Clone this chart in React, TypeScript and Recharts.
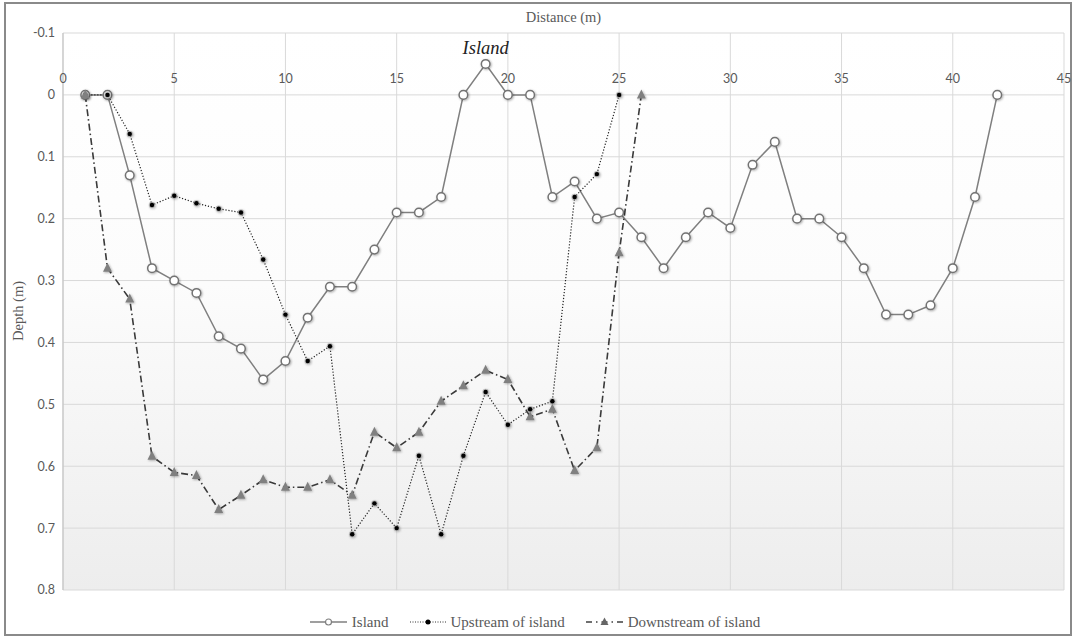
import {
    LineChart,
    Line,
    XAxis,
    YAxis,
    CartesianGrid,
    Legend,
    ReferenceDot,
} from "recharts";

// distance along the transect (m)
const distance = [
    1, 2, 3, 4, 5, 6, 7, 8, 9, 10, 11, 12, 13, 14, 15, 16, 17, 18, 19, 20, 21,
    22, 23, 24, 25, 26, 27, 28, 29, 30, 31, 32, 33, 34, 35, 36, 37, 38, 39, 40,
    41, 42,
];

// depth (m) per series, one value per metre starting at 1 m
const island = [
    0, 0, 0.13, 0.28, 0.3, 0.32, 0.39, 0.41, 0.46, 0.43, 0.36, 0.31, 0.31, 0.25,
    0.19, 0.19, 0.165, 0, -0.05, 0, 0, 0.165, 0.14, 0.2, 0.19, 0.23, 0.28, 0.23,
    0.19, 0.215, 0.113, 0.076, 0.2, 0.2, 0.23, 0.28, 0.355, 0.355, 0.34, 0.28,
    0.165, 0,
];
const upstream = [
    0, 0, 0.063, 0.178, 0.163, 0.175, 0.184, 0.19, 0.266, 0.355, 0.43, 0.406,
    0.71, 0.66, 0.7, 0.583, 0.71, 0.583, 0.48, 0.533, 0.508, 0.495, 0.165, 0.128,
    0,
];
const downstream = [
    0, 0.28, 0.33, 0.584, 0.61, 0.615, 0.67, 0.647, 0.622, 0.634, 0.634, 0.622,
    0.647, 0.545, 0.57, 0.545, 0.495, 0.47, 0.445, 0.46, 0.52, 0.508, 0.607, 0.57,
    0.255, 0,
];

const xTicks = [0, 5, 10, 15, 20, 25, 30, 35, 40, 45];
const yTicks = [-0.1, 0, 0.1, 0.2, 0.3, 0.4, 0.5, 0.6, 0.7, 0.8];

const data = distance.map((d, i) => ({
    distance: d,
    island: island[i],
    upstream: upstream[i],
    downstream: downstream[i],
}));

const GRAY = "#595959";
const SANS = "Lato, 'Open Sans', sans-serif";
const SERIF = "'Liberation Serif', 'DejaVu Serif', serif";

const XTick = ({ x, y, payload }: any) => (
    <text
        x={x}
        y={y}
        dy={58}
        textAnchor="middle"
        fill={GRAY}
        fontSize={12.5}
        fontFamily={SANS}
    >
        {payload.value}
    </text>
);

const UpstreamDot = ({ cx, cy, index }: any) => {
    if (cx == null || cy == null) return <g key={index} />;
    return (
        <g key={index} filter="url(#dotShadow)">
            <circle cx={cx} cy={cy} r={3.2} fill="#9a9a9a" opacity={0.6} />
            <circle cx={cx} cy={cy} r={2.2} fill="#000" />
        </g>
    );
};

const TriangleDot = ({ cx, cy, index }: any) => {
    if (cx == null || cy == null) return <g key={index} />;
    return (
        <polygon
            key={index}
            points={`${cx},${cy - 5.5} ${cx - 4.5},${cy + 3.5} ${cx + 4.5},${cy + 3.5}`}
            fill="#808080"
            filter="url(#dotShadow)"
        />
    );
};

const LegendContent = () => (
    <div
        style={{
            height: 42,
            paddingTop: 22,
            boxSizing: "border-box",
            display: "flex",
            justifyContent: "center",
            alignItems: "center",
            fontFamily: SERIF,
            fontSize: 15,
            color: GRAY,
            gap: 21,
            marginLeft: 6,
        }}
    >
        <span style={{ display: "flex", alignItems: "center", gap: 5 }}>
            <svg width={37} height={10}>
                <line x1={0} y1={5} x2={37} y2={5} stroke="#7f7f7f" strokeWidth={1.3} />
                <circle cx={18.5} cy={5} r={3} fill="#fff" stroke="#7f7f7f" strokeWidth={1.2} />
            </svg>
            Island
        </span>
        <span style={{ display: "flex", alignItems: "center", gap: 5 }}>
            <svg width={36} height={10}>
                <line x1={0} y1={5} x2={36} y2={5} stroke="#333" strokeWidth={1} strokeDasharray="1 1.5" />
                <circle cx={18} cy={5} r={2.5} fill="#000" />
            </svg>
            Upstream of island
        </span>
        <span style={{ display: "flex", alignItems: "center", gap: 5 }}>
            <svg width={37} height={10}>
                <line x1={0} y1={5} x2={37} y2={5} stroke="#404040" strokeWidth={1.3} strokeDasharray="6 4 1.5 4" />
                <polygon points="18.5,0.5 14.5,8 22.5,8" fill="#666" />
            </svg>
            Downstream of island
        </span>
    </div>
);

export default function App() {
    return (
        <div
            style={{
                position: "absolute",
                left: 0,
                top: 0,
                width: 1076,
                height: 640,
                background: "#fff",
            }}
        >
            <svg width={0} height={0} style={{ position: "absolute" }}>
                <defs>
                    <linearGradient id="plotBg" x1="0" y1="0" x2="0" y2="1">
                        <stop offset="0%" stopColor="#ffffff" />
                        <stop offset="45%" stopColor="#fcfcfc" />
                        <stop offset="100%" stopColor="#ededed" />
                    </linearGradient>
                    <filter id="dotShadow" x="-60%" y="-60%" width="220%" height="220%">
                        <feDropShadow dx={0.8} dy={0.8} stdDeviation={0.9} floodColor="#000" floodOpacity={0.35} />
                    </filter>
                </defs>
            </svg>
            <div
                style={{
                    position: "absolute",
                    left: 4,
                    top: 2,
                    width: 1068,
                    height: 634,
                    border: "2px solid #8a8a8a",
                    boxSizing: "border-box",
                }}
            />
            <div
                style={{
                    position: "absolute",
                    top: 9,
                    left: 63,
                    width: 1001,
                    textAlign: "center",
                    fontFamily: SERIF,
                    fontSize: 14.5,
                    color: GRAY,
                }}
            >
                Distance (m)
            </div>
            <div
                style={{
                    position: "absolute",
                    left: 18,
                    top: 311,
                    transform: "translate(-50%, -50%) rotate(-90deg)",
                    fontFamily: SERIF,
                    fontSize: 14.5,
                    color: GRAY,
                    whiteSpace: "nowrap",
                }}
            >
                Depth (m)
            </div>
            <LineChart
                width={1076}
                height={640}
                data={data}
                margin={{ top: 13, right: 12, bottom: 8, left: 0 }}
                style={{ position: "absolute", left: 0, top: 0 }}
            >
                <CartesianGrid
                    stroke="#d9d9d9"
                    strokeWidth={1}
                    fill="url(#plotBg)"
                    fillOpacity={1}
                />
                <XAxis
                    dataKey="distance"
                    type="number"
                    orientation="top"
                    domain={[0, 45]}
                    ticks={xTicks}
                    height={20}
                    axisLine={false}
                    tickLine={false}
                    tick={<XTick />}
                    interval={0}
                />
                <YAxis
                    type="number"
                    reversed
                    domain={[-0.1, 0.8]}
                    ticks={yTicks}
                    width={63}
                    axisLine={{ stroke: "#bfbfbf" }}
                    tickLine={false}
                    tick={{ fill: GRAY, fontSize: 12.5, fontFamily: SANS }}
                    tickFormatter={(v: number) => String(Number(v.toFixed(1)))}
                    interval={0}
                />
                <Line
                    dataKey="island"
                    name="Island"
                    stroke="#7f7f7f"
                    strokeWidth={1.5}
                    dot={{ r: 4.3, fill: "#fff", stroke: "#737373", strokeWidth: 1.5, filter: "url(#dotShadow)" }}
                    activeDot={false}
                    isAnimationActive={false}
                />
                <Line
                    dataKey="upstream"
                    name="Upstream of island"
                    stroke="#222"
                    strokeWidth={1.2}
                    strokeDasharray="1.2 1.8"
                    dot={<UpstreamDot />}
                    activeDot={false}
                    isAnimationActive={false}
                />
                <Line
                    dataKey="downstream"
                    name="Downstream of island"
                    stroke="#3a3a3a"
                    strokeWidth={1.6}
                    strokeDasharray="7 3 1.5 3"
                    dot={<TriangleDot />}
                    activeDot={false}
                    isAnimationActive={false}
                />
                <ReferenceDot
                    x={19}
                    y={-0.05}
                    r={0}
                    label={{
                        value: "Island",
                        position: "top",
                        offset: 10,
                        fill: "#222",
                        fontSize: 18.5,
                        fontStyle: "italic",
                        fontFamily: SERIF,
                    }}
                />
                <Legend verticalAlign="bottom" content={<LegendContent />} />
            </LineChart>
        </div>
    );
}
